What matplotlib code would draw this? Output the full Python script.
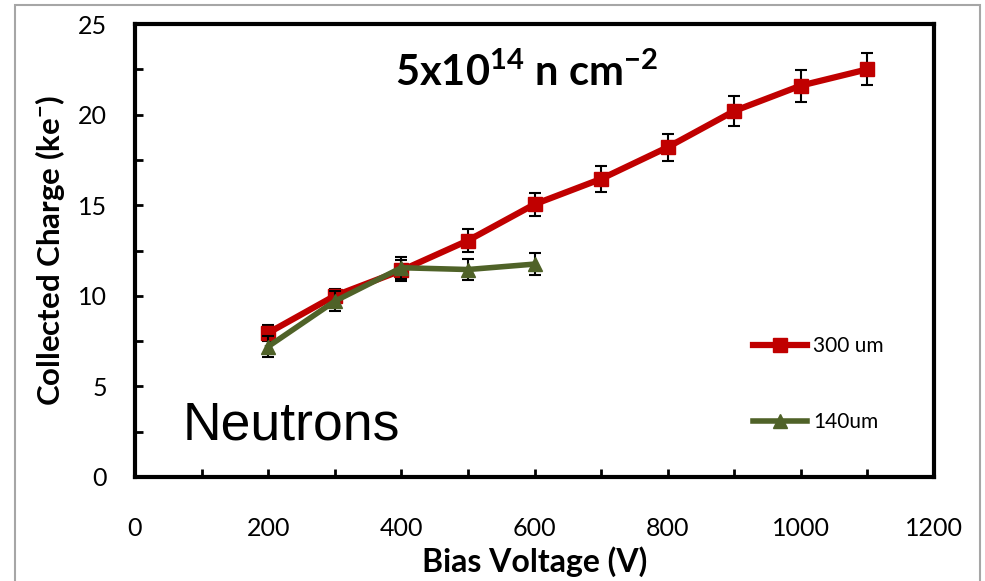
import matplotlib
matplotlib.use("Agg")
import matplotlib.pyplot as plt
from matplotlib.patches import Rectangle
from matplotlib.ticker import MultipleLocator

plt.rcParams['font.family'] = ['Lato', 'DejaVu Sans']
plt.rcParams['mathtext.fontset'] = 'custom'
plt.rcParams['mathtext.rm'] = 'Lato'
plt.rcParams['mathtext.bf'] = 'Lato:bold'
plt.rcParams['mathtext.default'] = 'bf'

# Data
v300 = [200, 300, 400, 500, 600, 700, 800, 900, 1000, 1100]
q300 = [7.95, 10.0, 11.4, 13.05, 15.05, 16.45, 18.2, 20.2, 21.6, 22.5]
e300 = [0.45, 0.4, 0.6, 0.62, 0.65, 0.7, 0.75, 0.85, 0.88, 0.88]
v140 = [200, 300, 400, 500, 600]
q140 = [7.2, 9.7, 11.55, 11.45, 11.75]
e140 = [0.6, 0.55, 0.6, 0.6, 0.62]
label300 = "300 um"
label140 = "140um"
xticks = [0, 200, 400, 600, 800, 1000, 1200]
yticks = [0, 5, 10, 15, 20, 25]

W, H = 985, 581
fig = plt.figure(figsize=(W / 100, H / 100), dpi=100)
fig.patch.set_facecolor('white')

# outer grey border
fig.patches.append(Rectangle((15 / W, -0.05), (980 - 15) / W, (H - 5) / H + 0.05,
                             transform=fig.transFigure, fill=False,
                             edgecolor='#A6A6A6', linewidth=1.5))

ax = fig.add_axes([135 / W, (H - 477) / H, (934 - 135) / W, (477 - 24) / H])

red = '#C00000'
green = '#4F6228'

ax.errorbar(v300, q300, yerr=e300, fmt='none', ecolor='black', elinewidth=1.5,
            capsize=4.5, capthick=1.5, zorder=3)
ax.plot(v300, q300, color=red, linewidth=4.5, marker='s', markersize=9.5,
        label=label300, zorder=4)
ax.errorbar(v140, q140, yerr=e140, fmt='none', ecolor='black', elinewidth=1.5,
            capsize=4.5, capthick=1.5, zorder=5)
ax.plot(v140, q140, color=green, linewidth=4, marker='^', markersize=10,
        label=label140, zorder=6)

ax.set_xlim(0, 1200)
ax.set_ylim(0, 25)
ax.set_xticks(xticks)
ax.set_yticks(yticks)
ax.xaxis.set_minor_locator(MultipleLocator(100))
ax.yaxis.set_minor_locator(MultipleLocator(2.5))

for s in ax.spines.values():
    s.set_linewidth(3)
    s.set_color('black')

ax.tick_params(axis='both', which='both', direction='in', width=2, length=6,
               labelsize=18, colors='black')
ax.tick_params(axis='x', which='major', pad=29)
ax.tick_params(axis='y', which='major', pad=20)
ax.tick_params(axis='y', which='both', right=False)
ax.tick_params(axis='x', which='both', top=False)

ax.set_xlabel("Bias Voltage (V)", fontsize=23, fontweight='bold', labelpad=4)
ax.set_ylabel(r"Collected Charge (ke$^{-}$)", fontsize=22.5, fontweight='bold', labelpad=8)

ax.text(0.49, 0.893, r"5x10$^{14}$ n cm$^{-2}$", transform=ax.transAxes,
        fontsize=30, fontweight='bold', ha='center', va='center')
ax.text(183 / W, (H - 425) / H, "Neutrons", transform=fig.transFigure,
        fontsize=38.5, family=['Liberation Sans', 'DejaVu Sans'], ha='left', va='center')

leg = ax.legend(loc='upper left', bbox_to_anchor=(753 / W, (H - 336) / H),
                bbox_transform=fig.transFigure, frameon=False, fontsize=15,
                labelspacing=2.7, handlelength=2.6, handletextpad=0.3,
                borderpad=0, borderaxespad=0)

fig.savefig("out.png", dpi=100)
